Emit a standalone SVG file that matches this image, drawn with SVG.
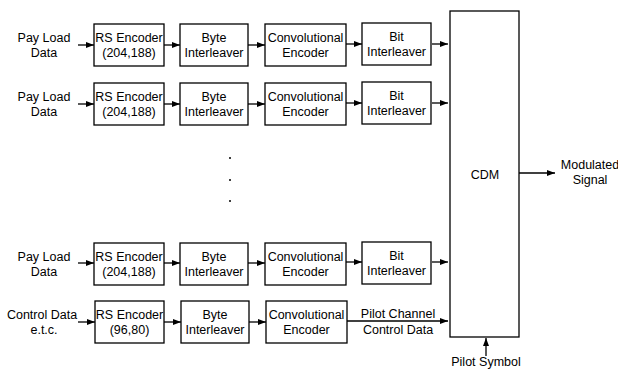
<svg xmlns="http://www.w3.org/2000/svg" width="618" height="371" viewBox="0 0 618 371">
<defs>
<marker id="ah" markerWidth="8" markerHeight="6" refX="8" refY="3" orient="auto" markerUnits="userSpaceOnUse">
<path d="M0,0 L8,3 L0,6 Z" fill="#000"/>
</marker>
<style>
rect{fill:#fff;stroke:#000;stroke-width:1.3}
text{font-family:"Liberation Sans",Arial,sans-serif;font-size:12.5px;fill:#000;text-anchor:middle}
.c line{stroke:#000;stroke-width:1.3;marker-end:url(#ah)}
</style>
</defs>
<rect width="618" height="371" style="fill:#fff;stroke:none"/>
<g id="labels">
<text x="44" y="42">Pay Load</text><text x="44" y="57">Data</text>
<text x="44" y="101">Pay Load</text><text x="44" y="116">Data</text>
<text x="44" y="261">Pay Load</text><text x="44" y="276">Data</text>
<text x="42" y="319">Control Data</text><text x="44" y="334">e.t.c.</text>
</g>
<g id="rs1"><rect x="94" y="24" width="70" height="42"/><text x="129" y="42">RS Encoder</text><text x="129" y="57">(204,188)</text></g>
<g id="bi1"><rect x="180" y="24" width="68" height="42"/><text x="214" y="42">Byte</text><text x="214" y="57">Interleaver</text></g>
<g id="ce1"><rect x="265" y="24" width="81" height="42"/><text x="305.5" y="42">Convolutional</text><text x="305.5" y="57">Encoder</text></g>
<g id="bt1"><rect x="362" y="23" width="69" height="42"/><text x="396.5" y="41">Bit</text><text x="396.5" y="56">Interleaver</text></g>

<g id="rs2"><rect x="94" y="83" width="70" height="42"/><text x="129" y="101">RS Encoder</text><text x="129" y="116">(204,188)</text></g>
<g id="bi2"><rect x="180" y="83" width="68" height="42"/><text x="214" y="101">Byte</text><text x="214" y="116">Interleaver</text></g>
<g id="ce2"><rect x="265" y="83" width="81" height="42"/><text x="305.5" y="101">Convolutional</text><text x="305.5" y="116">Encoder</text></g>
<g id="bt2"><rect x="362" y="82" width="69" height="42"/><text x="396.5" y="100">Bit</text><text x="396.5" y="115">Interleaver</text></g>

<g id="rs3"><rect x="94" y="243" width="70" height="42"/><text x="129" y="261">RS Encoder</text><text x="129" y="276">(204,188)</text></g>
<g id="bi3"><rect x="180" y="243" width="68" height="42"/><text x="214" y="261">Byte</text><text x="214" y="276">Interleaver</text></g>
<g id="ce3"><rect x="265" y="243" width="81" height="42"/><text x="305.5" y="261">Convolutional</text><text x="305.5" y="276">Encoder</text></g>
<g id="bt3"><rect x="362" y="242" width="69" height="42"/><text x="396.5" y="260">Bit</text><text x="396.5" y="275">Interleaver</text></g>

<g id="rs4"><rect x="95" y="301" width="69" height="42"/><text x="129.5" y="319">RS Encoder</text><text x="129.5" y="334">(96,80)</text></g>
<g id="bi4"><rect x="181" y="301" width="68" height="42"/><text x="215" y="319">Byte</text><text x="215" y="334">Interleaver</text></g>
<g id="ce4"><rect x="266" y="301" width="81" height="42"/><text x="306.5" y="319">Convolutional</text><text x="306.5" y="334">Encoder</text></g>

<g id="cdm"><rect x="450" y="11" width="69" height="326"/><text x="485" y="179">CDM</text></g>

<g id="dots" fill="#000"><circle cx="230" cy="158" r="1"/><circle cx="230" cy="180" r="1"/><circle cx="230" cy="201" r="1"/></g>

<g class="c" id="connectors">
<line x1="78" y1="45" x2="94" y2="45"/><line x1="164" y1="45" x2="180" y2="45"/><line x1="248" y1="45" x2="265" y2="45"/><line x1="346" y1="44" x2="362" y2="44"/><line x1="432" y1="44" x2="448" y2="44"/>
<line x1="78" y1="104" x2="94" y2="104"/><line x1="164" y1="104" x2="180" y2="104"/><line x1="248" y1="104" x2="265" y2="104"/><line x1="346" y1="103" x2="362" y2="103"/><line x1="432" y1="103" x2="448" y2="103"/>
<line x1="78" y1="263" x2="94" y2="263"/><line x1="164" y1="263" x2="180" y2="263"/><line x1="248" y1="263" x2="265" y2="263"/><line x1="346" y1="262" x2="362" y2="262"/><line x1="432" y1="262" x2="448" y2="262"/>
<line x1="78" y1="322" x2="95" y2="322"/><line x1="164" y1="322" x2="181" y2="322"/><line x1="249" y1="322" x2="266" y2="322"/><line x1="347" y1="321" x2="448" y2="321"/>
<line x1="519" y1="173" x2="555" y2="173"/>
<line x1="486" y1="356" x2="486" y2="338"/>
</g>
<g id="outlabels">
<text x="398" y="318">Pilot Channel</text><text x="398" y="334">Control Data</text>
<text x="590" y="169">Modulated</text><text x="590" y="184">Signal</text>
<text x="486" y="366">Pilot Symbol</text>
</g>
</svg>
